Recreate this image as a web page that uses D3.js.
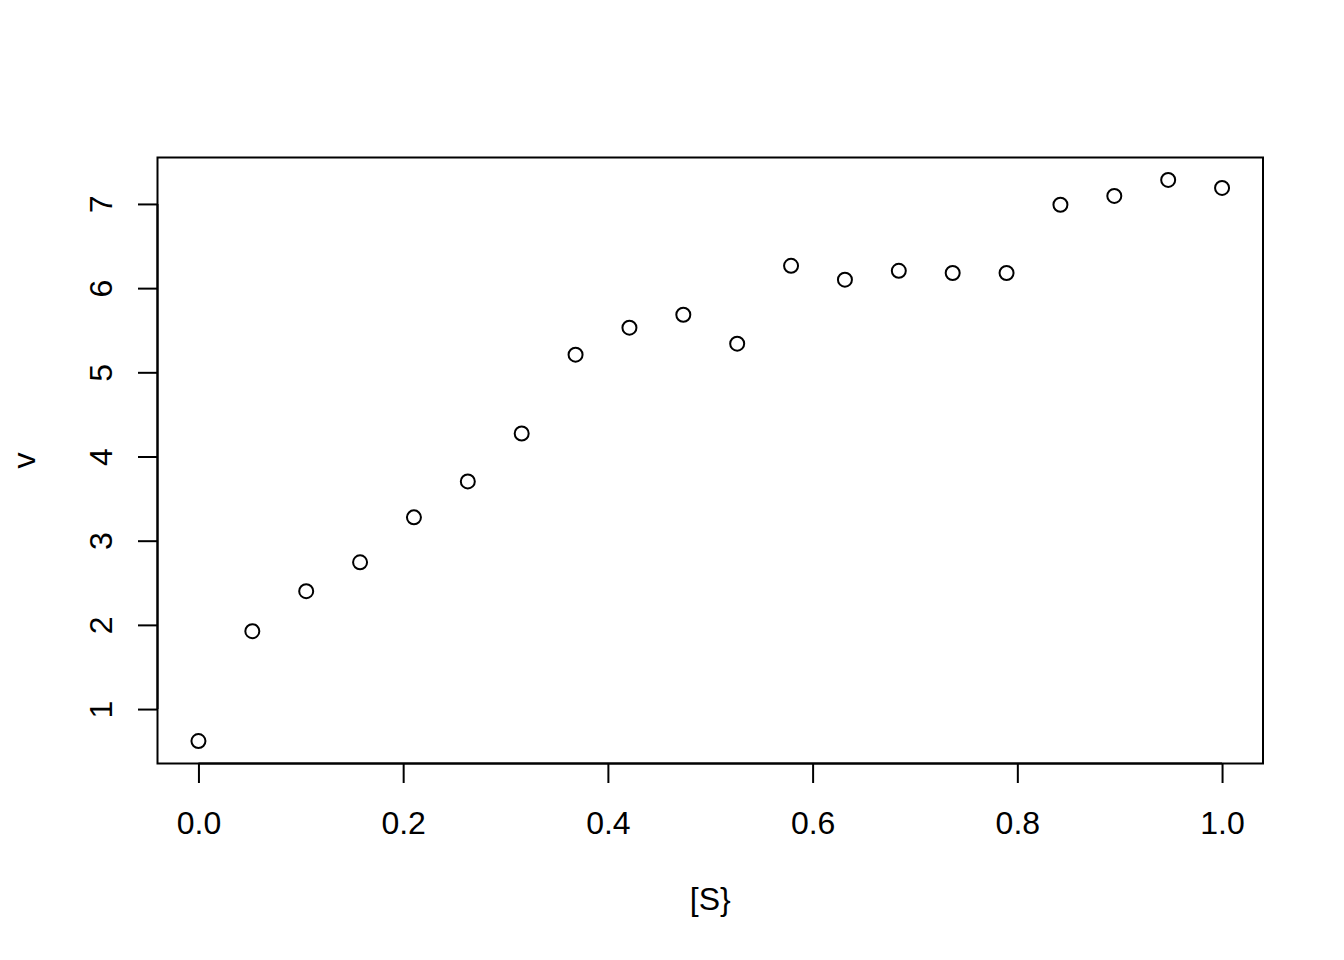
<!DOCTYPE html>
<html><head><meta charset="utf-8">
<script src="https://cdn.jsdelivr.net/npm/d3@7"></script>
<style>body{margin:0;background:#fff}svg{display:block}text{font-family:"Liberation Sans",Arial,sans-serif;fill:#000}</style>
</head><body>
<script>
const substrate = [0,1/19,2/19,3/19,4/19,5/19,6/19,7/19,8/19,9/19,10/19,11/19,12/19,13/19,14/19,15/19,16/19,17/19,18/19,1];
const velocity = [0.62,1.925,2.40,2.743,3.277,3.704,4.273,5.21,5.53,5.684,5.34,6.265,6.10,6.206,6.18,6.18,6.99,7.095,7.285,7.19];
const xTicks = [0,0.2,0.4,0.6,0.8,1.0];
const yTicks = [1,2,3,4,5,6,7];
const xLabel = "[S}";
const yLabel = "v";

const W=1344,H=960;
const L=157.5,R=1263,T=157.5,B=763.5;
const svg=d3.select("body").append("svg").attr("width",W).attr("height",H);
function ext(a){const mn=d3.min(a),mx=d3.max(a),d=(mx-mn)*0.04;return [mn-d,mx+d];}
const x=d3.scaleLinear().domain(ext(substrate)).range([L,R]);
const y=d3.scaleLinear().domain(ext(velocity)).range([B,T]);
const fs=32;

svg.append("rect").attr("x",L).attr("y",T).attr("width",R-L).attr("height",B-T)
  .attr("fill","none").attr("stroke","#000").attr("stroke-width",2);

const xa=svg.append("g").attr("transform",`translate(0,${B})`)
  .call(d3.axisBottom(x).tickValues(xTicks).tickFormat(d3.format(".1f")).tickSize(19.5).tickSizeOuter(0));
xa.select(".domain").attr("d",`M${x(xTicks[0])},0H${x(xTicks[xTicks.length-1])}`).attr("stroke-width",2);
xa.selectAll(".tick line").attr("stroke-width",2);
xa.selectAll(".tick text").attr("font-size",fs).attr("font-family","Liberation Sans, Arial, sans-serif")
  .attr("y",834-B).attr("dy",0);

const ya=svg.append("g").attr("transform",`translate(${L},0)`)
  .call(d3.axisLeft(y).tickValues(yTicks).tickFormat(d3.format("d")).tickSize(19.5).tickSizeOuter(0));
ya.select(".domain").attr("d",`M0,${y(yTicks[0])}V${y(yTicks[yTicks.length-1])}`).attr("stroke-width",2);
ya.selectAll(".tick line").attr("stroke-width",2);
ya.selectAll(".tick text").attr("font-size",fs).attr("font-family","Liberation Sans, Arial, sans-serif")
  .attr("text-anchor","middle").attr("transform","rotate(-90)")
  .attr("x",0).attr("y",112-L).attr("dy",0);

svg.append("g").selectAll("circle").data(substrate).join("circle")
  .attr("cx",(d)=>x(d)).attr("cy",(d,i)=>y(velocity[i])).attr("r",7)
  .attr("fill","none").attr("stroke","#000").attr("stroke-width",2);

svg.append("text").attr("x",(L+R)/2).attr("y",910).attr("text-anchor","middle").attr("font-size",fs).text(xLabel);
svg.append("text").attr("transform",`translate(35,${(T+B)/2}) rotate(-90)`).attr("text-anchor","middle").attr("font-size",fs).text(yLabel);
</script>
</body></html>
